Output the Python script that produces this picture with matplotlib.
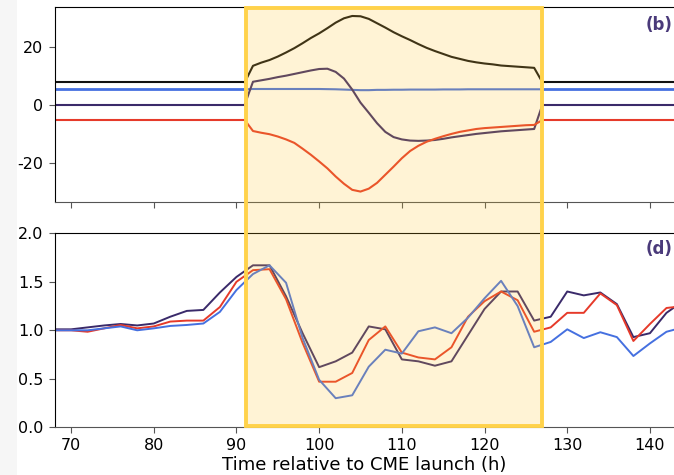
import numpy as np
import matplotlib
matplotlib.use("Agg")
import matplotlib.pyplot as plt
from matplotlib.patches import Rectangle
from matplotlib.transforms import blended_transform_factory

plt.rcParams['axes.unicode_minus'] = False

# Colours
c_black = '#111111'
c_blue = '#4570e0'
c_purple = '#3a2a6a'
c_red = '#e63a2a'
c_gold = '#FFC52E'

# Event interval (h)
t_start, t_end = 91.2, 126.9

# Top panel: model field components, 1 h grid inside the event
t_model = np.arange(91, 128)
B_total = [7.7, 13.4, 14.5, 15.4, 16.6, 18.0, 19.5, 21.2, 23.0, 24.6, 26.4, 28.3,
           29.8, 30.6, 30.5, 29.6, 28.1, 26.6, 25.0, 23.6, 22.3, 20.9, 19.6, 18.5,
           17.5, 16.5, 15.8, 15.1, 14.6, 14.2, 13.9, 13.5, 13.3, 13.1, 12.9, 12.7, 7.7]
B_x = [5.3, 5.4, 5.4, 5.4, 5.4, 5.4, 5.4, 5.4, 5.4, 5.4, 5.35, 5.3, 5.2, 5.1,
       5.0, 5.0, 5.1, 5.1, 5.15, 5.15, 5.2, 5.2, 5.2, 5.2, 5.25, 5.25, 5.25, 5.3,
       5.3, 5.3, 5.3, 5.3, 5.3, 5.3, 5.3, 5.3, 5.3]
B_z = [0.0, 7.9, 8.4, 8.9, 9.5, 10.0, 10.6, 11.2, 11.8, 12.3, 12.4, 11.3, 9.0,
       5.2, 0.7, -2.8, -6.4, -9.4, -11.2, -12.0, -12.4, -12.5, -12.4, -12.2,
       -11.8, -11.3, -10.9, -10.5, -10.1, -9.8, -9.5, -9.2, -9.0, -8.8, -8.6, -8.4, 0.0]
B_y = [-5.3, -9.1, -9.7, -10.2, -11.0, -12.0, -13.2, -15.2, -17.3, -19.6, -22.0,
       -24.8, -27.3, -29.4, -30.0, -29.0, -27.0, -24.2, -21.4, -18.5, -16.0, -14.2,
       -12.8, -11.8, -10.9, -10.1, -9.4, -8.9, -8.4, -8.1, -7.9, -7.7, -7.5, -7.3,
       -7.1, -7.0, -5.3]
# quiet background values outside the event
bg_total, bg_x, bg_z, bg_y = 7.7, 5.3, 0.0, -5.3

# Bottom panel: normalised observations, 2 h cadence
t_obs = np.arange(68, 146, 2)
obs_purple = [1.01, 1.01, 1.03, 1.05, 1.065, 1.05, 1.07, 1.14, 1.20, 1.21, 1.39, 1.55,
              1.67, 1.67, 1.35, 0.97, 0.62, 0.68, 0.77, 1.04, 1.01, 0.70, 0.68, 0.635,
              0.68, 0.95, 1.22, 1.40, 1.40, 1.10, 1.14, 1.40, 1.36, 1.39, 1.27, 0.93,
              0.97, 1.18, 1.30]
obs_red = [1.00, 1.00, 0.985, 1.02, 1.055, 1.02, 1.04, 1.09, 1.10, 1.10, 1.24, 1.50,
           1.62, 1.63, 1.32, 0.87, 0.47, 0.47, 0.56, 0.90, 1.04, 0.77, 0.72, 0.70,
           0.825, 1.14, 1.30, 1.40, 1.31, 0.985, 1.03, 1.18, 1.18, 1.38, 1.26, 0.89,
           1.065, 1.23, 1.25]
obs_blue = [1.00, 1.00, 1.00, 1.02, 1.04, 1.00, 1.02, 1.045, 1.055, 1.07, 1.19, 1.415,
            1.58, 1.67, 1.49, 0.92, 0.49, 0.30, 0.33, 0.625, 0.80, 0.76, 0.99, 1.03,
            0.97, 1.13, 1.33, 1.51, 1.25, 0.825, 0.88, 1.01, 0.92, 0.98, 0.93, 0.735,
            0.865, 0.985, 1.03]

W, H = 674, 475
fig = plt.figure(figsize=(W / 100, H / 100), dpi=100)
fig.patches.append(Rectangle((0, 0), 17 / W, 1, transform=fig.transFigure,
                             facecolor='#f6f6f6', edgecolor='none', zorder=-5))

left = 54.5 / W
xmax = 68 + (W - 54.5) / 8.27
ax1 = fig.add_axes([left, 1 - 202 / H, 1 - left, (202 - 7) / H])
ax2 = fig.add_axes([left, 1 - 427.3 / H, 1 - left, (427.3 - 233.3) / H])

pre = np.array([68, 91])
post = np.array([127, 145])
for vals, bg, col, lw in [(B_total, bg_total, c_black, 1.5), (B_x, bg_x, c_blue, 2.0),
                          (B_z, bg_z, c_purple, 1.5), (B_y, bg_y, c_red, 1.5)]:
    ax1.plot(pre, [bg, bg], color=col, lw=lw)
    ax1.plot(t_model, vals, color=col, lw=1.5)
    ax1.plot(post, [bg, bg], color=col, lw=lw)

ax2.plot(t_obs, obs_purple, color=c_purple, lw=1.4)
ax2.plot(t_obs, obs_red, color=c_red, lw=1.4)
ax2.plot(t_obs, obs_blue, color=c_blue, lw=1.4)

ax1.set_ylim(-33.6, 33.7)
ax1.set_yticks([-20, 0, 20])
ax2.set_ylim(0, 2)
ax2.set_yticks([0.0, 0.5, 1.0, 1.5, 2.0])
for ax in (ax1, ax2):
    ax.set_xlim(68, xmax)
    ax.set_xticks(np.arange(70, 150, 10))
    ax.set_facecolor('none')
    ax.spines['right'].set_visible(False)
    ax.spines['bottom'].set_color('#555555')
    ax.tick_params(labelsize=11.5, length=4.5, color='#555555')
ax1.tick_params(axis='x', labelbottom=False)
ax2.set_xlabel('Time relative to CME launch (h)', fontsize=13, labelpad=2)

ax1.text(0.998, 0.91, '(b)', transform=ax1.transAxes, ha='right', va='center',
         fontsize=12, fontweight='bold', color='#4a3a7a')
ax2.text(0.998, 0.92, '(d)', transform=ax2.transAxes, ha='right', va='center',
         fontsize=12, fontweight='bold', color='#4a3a7a')

# event shading spanning both panels, drawn over the lines
tr = blended_transform_factory(ax1.transData, fig.transFigure)
y0, y1 = 1 - 426 / H, 1 - 8 / H
fig.patches.append(Rectangle((t_start, y0), t_end - t_start, y1 - y0, transform=tr,
                             facecolor=c_gold, alpha=0.2, edgecolor='none', zorder=2))
fig.patches.append(Rectangle((t_start, y0), t_end - t_start, y1 - y0, transform=tr,
                             fill=False, edgecolor='#FFD24A', lw=2.8, zorder=3))

fig.savefig('out.png', dpi=100)
